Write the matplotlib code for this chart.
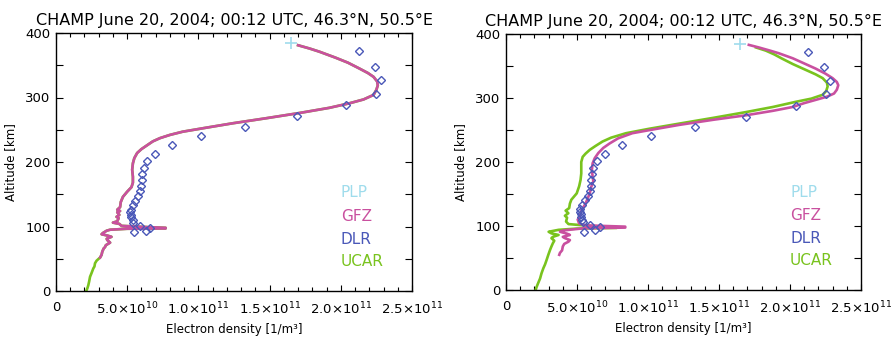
import matplotlib
matplotlib.use("Agg")
import matplotlib.pyplot as plt
from matplotlib.ticker import MultipleLocator, FixedLocator
import numpy as np

TITLE = "CHAMP June 20, 2004; 00:12 UTC, 46.3°N, 50.5°E"
XTICKS = [0, 5e10, 1e11, 1.5e11, 2e11, 2.5e11]
XTICKLABELS = ["0", r"5.0$\times$10$^{10}$", r"1.0$\times$10$^{11}$",
               r"1.5$\times$10$^{11}$", r"2.0$\times$10$^{11}$", r"2.5$\times$10$^{11}$"]
YTICKS = [0, 100, 200, 300, 400]
LEGEND = ["PLP", "GFZ", "DLR", "UCAR"]

# densities in units of 1e10 m^-3, altitudes in km
# ---- left panel GFZ ----
gfz_l_alt = [381, 376, 371, 362, 354, 345, 338, 332, 325, 319, 312, 304, 297, 291, 284, 276,
             268, 260, 253, 247, 242, 237, 232, 226, 220, 214, 206, 198, 188, 177, 168, 161,
             154, 146, 138, 130, 126, 124, 122, 118, 115, 113, 108, 106, 104, 101, 99, 98,
             97, 96.5, 95, 93.5, 90, 88, 86, 84, 81, 79, 75, 71, 68, 66, 61, 56, 52]
gfz_l_ne = [17.0, 17.8, 18.5, 19.6, 20.5, 21.3, 21.9, 22.3, 22.55, 22.6, 22.5, 22.3, 21.6, 20.6,
            19.2, 17.1, 14.8, 12.4, 10.5, 8.9, 8.0, 7.3, 6.8, 6.4, 6.0, 5.7, 5.5, 5.4, 5.35,
            5.4, 5.4, 5.3, 5.0, 4.7, 4.55, 4.5, 4.3, 4.5, 4.3, 4.45, 4.25, 4.4, 4.3, 4.0,
            4.45, 4.6, 6.5, 7.7, 7.7, 5.0, 3.8, 3.56, 3.3, 3.2, 3.6, 3.9, 3.56, 3.6, 3.8,
            3.5, 3.44, 3.35, 3.25, 3.2, 3.1]
# ---- left panel UCAR (coincides with GFZ above ~52 km) ----
ucar_l_alt = gfz_l_alt + [47, 43, 38, 35, 28, 22, 15, 9, 4, 1.5]
ucar_l_ne = gfz_l_ne + [2.85, 2.74, 2.7, 2.62, 2.5, 2.39, 2.33, 2.27, 2.2, 2.15]

# ---- right panel GFZ ----
gfz_r_alt = [383, 379, 374, 370, 362, 354, 346, 338, 331, 325, 320, 313, 307, 302, 297, 292,
             286, 280, 273, 266, 258, 251, 245, 237, 229, 222, 214, 206, 198, 188, 177, 170,
             161, 151, 143, 135, 125, 115, 110, 107, 104, 101, 99, 97.5, 96.5, 93, 91, 88,
             86, 83, 81, 78, 75.5, 72, 68, 62, 58, 55]
gfz_r_ne = [17.1, 17.8, 18.6, 19.2, 20.2, 21.0, 21.8, 22.5, 23.0, 23.3, 23.4, 23.3, 23.1, 22.6,
            21.8, 21.0, 20.2, 18.8, 16.9, 14.6, 12.2, 10.4, 8.9, 7.9, 7.3, 6.85, 6.5, 6.25,
            6.1, 6.05, 6.1, 6.15, 6.0, 5.9, 5.75, 5.6, 5.33, 5.2, 5.05, 5.1, 5.15, 5.6, 8.4,
            8.4, 5.5, 4.0, 3.8, 4.3, 4.5, 4.0, 4.15, 4.5, 4.4, 4.1, 4.0, 3.95, 3.8, 3.75]
# ---- right panel UCAR ----
ucar_r_alt = [379, 374, 368, 362, 353, 344, 337, 331, 324, 318, 311, 305, 299, 294, 286, 278,
              269, 260, 252, 245, 238, 232, 225, 219, 213, 208, 200, 193, 182, 172, 162, 151,
              141, 135, 128, 124, 120, 116, 113, 107, 103, 100, 98, 97, 96, 94, 91, 88.5,
              86, 83, 81, 77, 73, 68, 62.5, 55, 47, 40, 34, 26, 18, 10, 5, 1]
ucar_r_ne = [17.6, 18.3, 18.9, 19.4, 20.2, 21.1, 21.8, 22.3, 22.6, 22.65, 22.55, 22.3, 21.5,
             20.4, 18.8, 16.9, 14.6, 12.2, 10.1, 8.45, 7.4, 6.8, 6.3, 5.9, 5.6, 5.4, 5.3,
             5.3, 5.3, 5.25, 5.15, 4.98, 4.6, 4.5, 4.45, 4.2, 4.39, 4.15, 4.3, 4.23, 4.4,
             6.0, 7.8, 7.8, 5.0, 3.7, 3.0, 3.2, 3.7, 3.3, 3.2, 3.4, 3.3, 3.2, 3.1, 2.98,
             2.86, 2.75, 2.63, 2.5, 2.4, 2.25, 2.16, 2.1]

# ---- DLR (same in both panels) ----
dlr_alt = [372, 348, 327, 306, 288, 271, 254, 240, 226, 213, 202, 191, 181, 172, 163, 155,
           147, 140, 133, 126, 122, 118, 114, 110, 106, 101, 98, 93, 91]
dlr_ne = [21.3, 22.4, 22.8, 22.5, 20.4, 16.9, 13.3, 10.2, 8.17, 6.98, 6.39, 6.16, 6.06, 6.02,
          5.97, 5.90, 5.78, 5.55, 5.38, 5.24, 5.2, 5.25, 5.3, 5.38, 5.4, 5.9, 6.6, 6.3, 5.5]

# ---- PLP ----
plp_alt = [384]
plp_ne = [16.5]

C_PLP = "#9fdcec"
C_GFZ = "#c9509f"
C_DLR = "#4a58b8"
C_UCAR = "#79c31e"

fig = plt.figure(figsize=(8.92, 3.38), dpi=100)
ax1 = fig.add_axes([56/892, 1-291/338, 356/892, 258/338])
ax2 = fig.add_axes([506/892, 1-290/338, 355/892, 256/338])

panels = [
    (ax1, ucar_l_ne, ucar_l_alt, gfz_l_ne, gfz_l_alt),
    (ax2, ucar_r_ne, ucar_r_alt, gfz_r_ne, gfz_r_alt),
]
for ax, une, ualt, gne, galt in panels:
    ax.plot(np.array(une) * 1e10, ualt, color=C_UCAR, lw=1.9, zorder=2)
    ax.plot(np.array(gne) * 1e10, galt, color=C_GFZ, lw=1.9, zorder=3)
    ax.plot(np.array(dlr_ne) * 1e10, dlr_alt, linestyle="none", marker="D", ms=4.2,
            mfc="none", mec=C_DLR, mew=1.0, zorder=4)
    ax.plot(np.array(plp_ne) * 1e10, plp_alt, linestyle="none", marker="+", ms=8,
            mew=1.2, color=C_PLP, zorder=4)
    ax.set_xlim(0, 2.5e11)
    ax.set_ylim(0, 400)
    ax.xaxis.set_major_locator(FixedLocator(XTICKS))
    ax.set_xticklabels(XTICKLABELS)
    ax.xaxis.set_minor_locator(MultipleLocator(1e10))
    ax.yaxis.set_major_locator(FixedLocator(YTICKS))
    ax.yaxis.set_minor_locator(MultipleLocator(50))
    ax.tick_params(which="both", direction="in", top=True, right=True, labelsize=9.5,
                   width=0.8, pad=7)
    ax.tick_params(axis="x", which="major", length=4)
    ax.tick_params(axis="x", which="minor", length=3)
    ax.tick_params(axis="y", which="both", length=5)
    ax.tick_params(axis="y", which="major", pad=4)
    for s in ax.spines.values():
        s.set_linewidth(1.0)
    ax.set_title(TITLE, fontsize=11.5, pad=6)
    ax.set_xlabel("Electron density [1/m³]", fontsize=8.5, labelpad=4)
    ax.set_ylabel("Altitude [km]", fontsize=8.5, labelpad=6)
    ys = [0.38, 0.29, 0.20, 0.115]
    for lab, col, yy in zip(LEGEND, [C_PLP, C_GFZ, C_DLR, C_UCAR], ys):
        ax.text(0.80, yy, lab, color=col, fontsize=11, transform=ax.transAxes,
                va="center", ha="left")

fig.savefig("out.png", dpi=100)
